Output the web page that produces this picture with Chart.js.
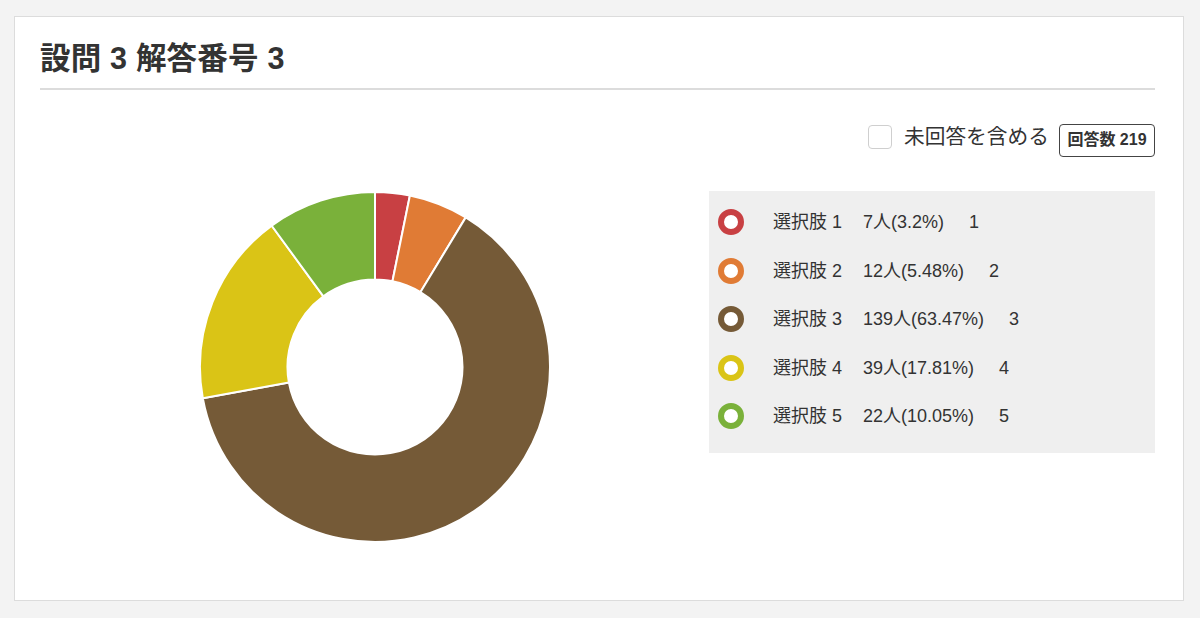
<!DOCTYPE html>
<html lang="ja">
<head>
<meta charset="utf-8">
<script src="https://cdn.jsdelivr.net/npm/chart.js@4/dist/chart.umd.min.js"></script>
<style>
  html, body { margin: 0; padding: 0; }
  body {
    width: 1200px; height: 618px; background: #f3f3f3; position: relative; overflow: hidden;
    font-family: "Liberation Sans", "Noto Sans CJK JP", sans-serif; color: #333;
  }
  .card {
    position: absolute; left: 14px; top: 16px; width: 1170px; height: 585px;
    background: #fff; border: 1px solid #dcdcdc; box-sizing: border-box;
  }
  h1 {
    position: absolute; left: 40px; top: 37px; margin: 0;
    font-size: 30.5px; font-weight: bold; line-height: 42px; color: #333; letter-spacing: 0.2px;
  }
  .rule { position: absolute; left: 40px; top: 88px; width: 1115px; height: 2px; background: #dcdcdc; }
  .check {
    position: absolute; left: 868px; top: 125px; width: 24px; height: 24px;
    border: 1px solid #cfcfcf; border-radius: 4px; box-sizing: border-box; background: #fff;
  }
  .checkLabel { position: absolute; left: 904px; top: 122px; font-size: 20.7px; line-height: 30px; color: #333; }
  .badge {
    position: absolute; left: 1059px; top: 124px; width: 96px; height: 33px;
    border: 1.5px solid #444; border-radius: 4px; box-sizing: border-box;
    font-size: 16px; font-weight: bold; line-height: 30px; text-align: center; color: #333;
  }
  #chartWrap { position: absolute; left: 199px; top: 191px; width: 352px; height: 352px; }
  .legend {
    position: absolute; left: 709px; top: 191px; width: 446px; height: 262px; background: #efefef;
  }
  .row { position: absolute; left: 0; height: 30px; line-height: 30px; font-size: 18px; color: #333; white-space: nowrap; }
  .ring {
    position: absolute; left: 9px; top: 2px; width: 26px; height: 26px;
    border-radius: 50%; border: 6px solid; box-sizing: border-box; background: #fff;
  }
  .row .txt { position: absolute; left: 64px; top: 0; }
  .row .txt span.nm { margin-right: 21px; }
  .row .txt span.val { margin-right: 25px; }
</style>
</head>
<body>
<div class="card"></div>
<h1>設問 3 解答番号 3</h1>
<div class="rule"></div>
<div class="check"></div>
<div class="checkLabel">未回答を含める</div>
<div class="badge">回答数 219</div>
<div id="chartWrap"><canvas id="donut"></canvas></div>
<div class="legend" id="legend"></div>

<script>
// ===== Dados =====
const labels = ["選択肢 1", "選択肢 2", "選択肢 3", "選択肢 4", "選択肢 5"];
const counts = [7, 12, 139, 39, 22];
const percents = ["3.2", "5.48", "63.47", "17.81", "10.05"];
const codes = ["1", "2", "3", "4", "5"];
const colors = ["#c84043", "#e07b35", "#755a37", "#dac416", "#7ab13a"];

// ===== Gráfico =====
const ctx = document.getElementById("donut").getContext("2d");
new Chart(ctx, {
  type: "doughnut",
  data: {
    labels: labels,
    datasets: [{
      data: counts,
      backgroundColor: colors,
      borderColor: "#ffffff",
      borderWidth: 2
    }]
  },
  options: {
    responsive: true,
    maintainAspectRatio: false,
    animation: false,
    cutout: "50%",
    plugins: {
      legend: { display: false },
      tooltip: { enabled: false }
    }
  }
});

// ===== Legenda =====
const legendEl = document.getElementById("legend");
labels.forEach((name, i) => {
  const row = document.createElement("div");
  row.className = "row";
  row.style.top = (16 + i * 48.5) + "px";
  row.innerHTML =
    '<div class="ring" style="border-color:' + colors[i] + '"></div>' +
    '<div class="txt"><span class="nm">' + name + '</span><span class="val">' + counts[i] + '人(' + percents[i] + '%)</span><span>' + codes[i] + '</span></div>';
  legendEl.appendChild(row);
});
</script>
</body>
</html>
